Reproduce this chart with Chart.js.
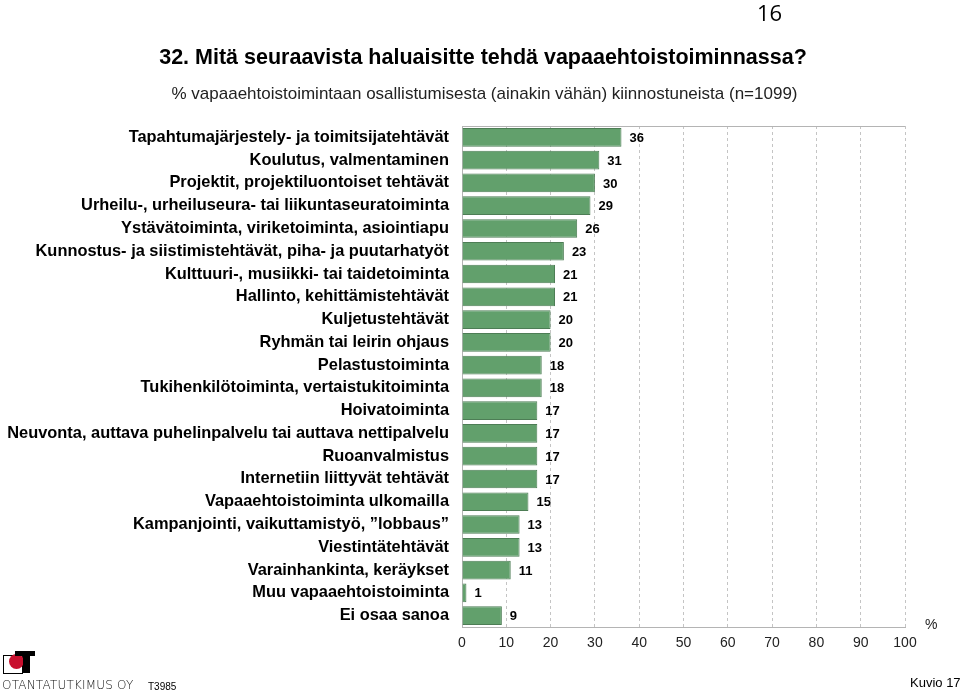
<!DOCTYPE html>
<html>
<head>
<meta charset="utf-8">
<script src="https://cdn.jsdelivr.net/npm/chart.js@4/dist/chart.umd.min.js"></script>
<style>
  html, body { margin: 0; padding: 0; background: #fff; }
  #wrap { position: relative; width: 960px; height: 692px; font-family: "Liberation Sans", Arial, sans-serif; }
  #wrap canvas { position: absolute; left: 0; top: 0; }
  .txt { position: absolute; white-space: nowrap; color: #000; }
  #title { left: 0; width: 966px; top: 45px; text-align: center; font-weight: bold; font-size: 21.5px; }
  #sub { left: 0; width: 969px; top: 84px; text-align: center; font-size: 17px; color: #222; }
  #page { left: 757px; top: -3px; font-size: 22px; font-family: "Open Sans", sans-serif; }
  #pct { left: 925px; top: 616px; font-size: 14px; color: #222; }
  #kuvio { left: 910px; top: 675px; font-size: 13px; }
  #firm { left: 2px; top: 678px; font-size: 12px; letter-spacing: 0.2px; font-family: "DejaVu Sans", sans-serif; font-weight: 300; color: #111; }
  #code { left: 148px; top: 681px; font-size: 10px; }
  .logo-box { position: absolute; left: 3px; top: 655px; width: 18px; height: 17px; border: 1px solid #000; }
  .logo-dot { position: absolute; left: 9px; top: 654px; width: 15px; height: 15px; border-radius: 50%; background: #c8102e; }
  .logo-bar { position: absolute; left: 15px; top: 651px; width: 20px; height: 5px; background: #000; }
  .logo-stem { position: absolute; left: 23px; top: 651px; width: 7px; height: 22px; background: #000; }
</style>
</head>
<body>
<div id="wrap">
  <canvas id="chart" width="960" height="692"></canvas>
  <div class="txt" id="page">16</div>
  <div class="txt" id="title">32. Mitä seuraavista haluaisitte tehdä vapaaehtoistoiminnassa?</div>
  <div class="txt" id="sub">% vapaaehtoistoimintaan osallistumisesta (ainakin vähän) kiinnostuneista (n=1099)</div>
  <div class="txt" id="pct">%</div>
  <div class="logo-box"></div>
  <div class="logo-dot"></div>
  <div class="logo-bar"></div>
  <div class="logo-stem"></div>
  <div class="txt" id="firm">OTANTATUTKIMUS OY</div>
  <div class="txt" id="code">T3985</div>
  <div class="txt" id="kuvio">Kuvio 17</div>
</div>
<script>
// kategoriat ja arvot (%)
const categories = [
  'Tapahtumajärjestely- ja toimitsijatehtävät',
  'Koulutus, valmentaminen',
  'Projektit, projektiluontoiset tehtävät',
  'Urheilu-, urheiluseura- tai liikuntaseuratoiminta',
  'Ystävätoiminta, viriketoiminta, asiointiapu',
  'Kunnostus- ja siistimistehtävät, piha- ja puutarhatyöt',
  'Kulttuuri-, musiikki- tai taidetoiminta',
  'Hallinto, kehittämistehtävät',
  'Kuljetustehtävät',
  'Ryhmän tai leirin ohjaus',
  'Pelastustoiminta',
  'Tukihenkilötoiminta, vertaistukitoiminta',
  'Hoivatoiminta',
  'Neuvonta, auttava puhelinpalvelu tai auttava nettipalvelu',
  'Ruoanvalmistus',
  'Internetiin liittyvät tehtävät',
  'Vapaaehtoistoiminta ulkomailla',
  'Kampanjointi, vaikuttamistyö, \u201dlobbaus\u201d',
  'Viestintätehtävät',
  'Varainhankinta, keräykset',
  'Muu vapaaehtoistoiminta',
  'Ei osaa sanoa'
];
const values = [36, 31, 30, 29, 26, 23, 21, 21, 20, 20, 18, 18, 17, 17, 17, 17, 15, 13, 13, 11, 1, 9];
const xTicks = [0, 10, 20, 30, 40, 50, 60, 70, 80, 90, 100];

// arvot palkkien perään + yläreuna
const valueLabels = {
  id: 'valueLabels',
  afterDatasetsDraw(chart) {
    const ctx = chart.ctx;
    const area = chart.chartArea;
    ctx.save();
    ctx.strokeStyle = '#b4b4b4';
    ctx.lineWidth = 1;
    ctx.beginPath();
    ctx.moveTo(area.left, area.top + 0.5);
    ctx.lineTo(area.right, area.top + 0.5);
    ctx.stroke();
    ctx.font = 'bold 13px "Liberation Sans", Arial, sans-serif';
    ctx.fillStyle = '#000';
    ctx.textAlign = 'left';
    ctx.textBaseline = 'middle';
    chart.getDatasetMeta(0).data.forEach((bar, i) => {
      ctx.fillText(String(values[i]), bar.x + 8, bar.y + 1);
    });
    ctx.restore();
  }
};

new Chart(document.getElementById('chart'), {
  type: 'bar',
  data: {
    labels: categories,
    datasets: [{
      data: values,
      backgroundColor: '#62a06c',
      borderColor: '#4d7d55',
      borderWidth: 1,
      barPercentage: 0.82,
      categoryPercentage: 1
    }]
  },
  options: {
    indexAxis: 'y',
    responsive: false,
    animation: false,
    layout: { padding: { top: 126, right: 55, bottom: 35, left: 0 } },
    plugins: { legend: { display: false }, tooltip: { enabled: false } },
    scales: {
      x: {
        min: 0,
        max: 100,
        afterFit: (s) => { s.height = 30; },
        afterBuildTicks: (s) => { s.ticks = xTicks.map(v => ({ value: v })); },
        grid: { color: '#c4c4c4', drawTicks: false, tickBorderDash: [3, 3] },
        border: { color: '#b4b4b4', dash: [3, 3] },
        ticks: { color: '#222', padding: 8, font: { family: '"Liberation Sans", Arial, sans-serif', size: 14 } }
      },
      y: {
        afterFit: (s) => { s.width = 462; },
        grid: { display: false, drawTicks: false },
        border: { color: '#b4b4b4' },
        ticks: { color: '#000', padding: 13, autoSkip: false, font: { family: '"Liberation Sans", Arial, sans-serif', size: 16.4, weight: 'bold' } }
      }
    }
  },
  plugins: [valueLabels]
});
</script>
</body>
</html>
